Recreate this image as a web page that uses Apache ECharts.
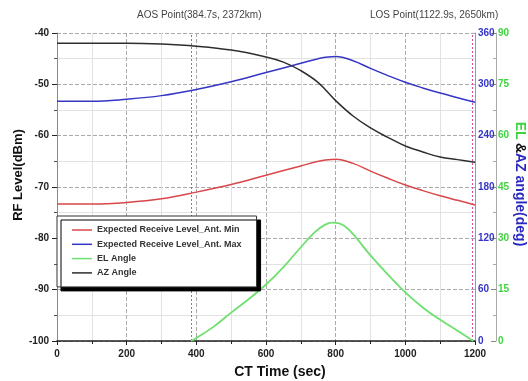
<!DOCTYPE html>
<html>
<head>
<meta charset="utf-8">
<script src="https://cdn.jsdelivr.net/npm/echarts@6/dist/echarts.min.js"></script>
<style>
  html, body { margin: 0; padding: 0; background: #fff; }
  #chart { width: 528px; height: 381px; }
</style>
</head>
<body>
<div id="chart"></div>
<script>
// RF level curves (dBm) vs CT time (sec)
const rfTime = [0, 100, 200, 300, 400, 500, 600, 700, 750, 800, 850, 900, 950, 1000, 1050, 1100, 1150, 1200];
const rfMin = [-73.3, -73.3, -73.0, -72.3, -71.0, -69.5, -67.7, -65.9, -65.0, -64.6, -65.4, -66.9, -68.3, -69.6, -70.7, -71.7, -72.6, -73.5];
const rfMax = [-53.3, -53.3, -52.9, -52.2, -51.0, -49.5, -47.7, -45.9, -45.0, -44.6, -45.4, -46.9, -48.3, -49.6, -50.7, -51.7, -52.6, -53.5];

// EL angle (deg), only during the pass
const elTime = [384.7, 400, 450, 500, 550, 600, 650, 700, 740, 770, 790, 810, 840, 900, 950, 1000, 1050, 1100, 1150, 1195];
const elAngle = [0, 0.9, 4.2, 8.3, 12.2, 16.5, 21.6, 27.4, 31.8, 34.0, 34.6, 34.4, 32.3, 25.0, 19.4, 14.2, 9.8, 6.2, 3.0, 0];

// AZ angle (deg)
const azTime = [0, 100, 200, 300, 400, 500, 600, 650, 700, 750, 800, 850, 900, 950, 1000, 1050, 1100, 1150, 1200];
const azAngle = [348, 348, 348, 347, 344.5, 340, 332, 326, 316, 302, 281, 263, 249, 238, 228, 221, 215, 212, 209];

// AOS / LOS marker lines
const markerTimes = [384.7, 1193];
const aosLabel = 'AOS Point(384.7s, 2372km)';
const losLabel = 'LOS Point(1122.9s, 2650km)';

const seriesNames = [
  'Expected Receive Level_Ant. Min',
  'Expected Receive Level_Ant. Max',
  'EL Angle',
  'AZ Angle'
];

const zip = (xs, ys) => xs.map((x, i) => [x, ys[i]]);

const labelFont = { fontSize: 10, fontWeight: 'bold', color: '#222', fontFamily: 'Liberation Sans, Arial' };
const markColor = '#d44fa8';

const myChart = echarts.init(document.getElementById('chart'));
const option = {
  animation: false,
  backgroundColor: '#fff',
  textStyle: { fontFamily: 'Liberation Sans, Arial' },
  title: [
    {
      text: aosLabel, left: 137, top: 10, padding: 0,
      textStyle: { fontSize: 10, fontWeight: 'normal', color: '#444' }
    },
    {
      text: losLabel, left: 370, top: 10, padding: 0,
      textStyle: { fontSize: 10, fontWeight: 'normal', color: '#444' }
    }
  ],
  grid: { left: 57, right: 53, top: 33, bottom: 40, outerBoundsMode: 'none' },
  legend: {
    data: seriesNames,
    orient: 'vertical',
    left: 57,
    top: 216,
    z: 20,
    icon: 'rect',
    itemWidth: 20,
    itemHeight: 1.5,
    itemGap: 3.3,
    padding: [8.5, 15, 8.5, 15],
    backgroundColor: '#fff',
    borderColor: '#333',
    borderWidth: 1,
    shadowColor: '#000',
    shadowBlur: 0,
    shadowOffsetX: 4,
    shadowOffsetY: 4,
    textStyle: { fontSize: 9, fontWeight: 'bold', color: '#333', lineHeight: 11 }
  },
  xAxis: {
    type: 'value',
    min: 0,
    max: 1200,
    interval: 200,
    name: 'CT Time (sec)',
    nameLocation: 'middle',
    nameGap: 24,
    nameMoveOverlap: false,
    nameTextStyle: { fontSize: 14, fontWeight: 'bold', color: '#111', padding: [0, 0, 0, 28] },
    axisLine: { lineStyle: { color: '#222', width: 1.5 } },
    axisTick: { length: 4, lineStyle: { color: '#222' } },
    minorTick: { show: true, splitNumber: 2, length: 3, lineStyle: { color: '#222' } },
    axisLabel: Object.assign({ margin: 8, formatter: v => String(v) }, labelFont),
    splitLine: { show: true, lineStyle: { color: '#aaa', type: 'dashed' } },
    minorSplitLine: { show: true, lineStyle: { color: '#e2e2e2' } }
  },
  yAxis: [
    {
      type: 'value',
      position: 'left',
      min: -100,
      max: -40,
      interval: 10,
      name: 'RF Level(dBm)',
      nameLocation: 'middle',
      nameGap: 32,
      nameMoveOverlap: false,
      nameTextStyle: { fontSize: 13, fontWeight: 'bold', color: '#111', padding: [0, 0, 0, 24] },
      axisLine: { show: true, lineStyle: { color: '#888' } },
      axisTick: { show: true, length: 5, lineStyle: { color: '#222' } },
      minorTick: { show: true, splitNumber: 2, length: 3, lineStyle: { color: '#555' } },
      axisLabel: Object.assign({ margin: 8 }, labelFont),
      splitLine: { show: true, lineStyle: { color: '#aaa', type: 'dashed' } },
      minorSplitLine: { show: true, lineStyle: { color: '#e2e2e2' } }
    },
    {
      type: 'value',
      position: 'right',
      min: 0,
      max: 360,
      interval: 60,
      axisLine: { show: true, lineStyle: { color: '#999' } },
      axisTick: { show: false },
      axisLabel: Object.assign({}, labelFont, { margin: 3, color: '#3535c8' }),
      splitLine: { show: false }
    },
    {
      type: 'value',
      position: 'right',
      offset: 21,
      min: 0,
      max: 90,
      interval: 15,
      name: '{g|EL} {k|&}{b|AZ angle(deg)}',
      nameLocation: 'middle',
      nameGap: 17,
      nameMoveOverlap: false,
      nameRotate: -90,
      nameTextStyle: {
        padding: [0, 6, 0, 0],
        rich: {
          g: { fontSize: 14, fontWeight: 'bold', color: '#3fd43f' },
          k: { fontSize: 14, fontWeight: 'bold', color: '#111' },
          b: { fontSize: 14, fontWeight: 'bold', color: '#2a2ac0' }
        }
      },
      axisLine: { show: true, lineStyle: { color: '#aaa' } },
      axisTick: { show: true, inside: true, length: 5, lineStyle: { color: '#888' } },
      minorTick: { show: true, splitNumber: 2, length: 3, lineStyle: { color: '#aaa' } },
      axisLabel: Object.assign({}, labelFont, { margin: 2, color: '#3fd43f' }),
      splitLine: { show: false }
    }
  ],
  series: [
    {
      name: seriesNames[0],
      type: 'line',
      yAxisIndex: 0,
      data: zip(rfTime, rfMin),
      smooth: 0.4,
      symbol: 'none',
      color: '#d9474a',
      lineStyle: { width: 1.5 },
      markLine: {
        silent: true,
        z: 1,
        symbol: 'none',
        label: { show: false },
        itemStyle: { color: markColor },
        lineStyle: { color: markColor, type: [2, 2], width: 1, opacity: 1 },
        data: markerTimes.map(t => ({ xAxis: t, lineStyle: { color: markColor } }))
      }
    },
    {
      name: seriesNames[1],
      type: 'line',
      yAxisIndex: 0,
      data: zip(rfTime, rfMax),
      smooth: 0.4,
      symbol: 'none',
      color: '#3636c4',
      lineStyle: { width: 1.5 }
    },
    {
      name: seriesNames[2],
      type: 'line',
      yAxisIndex: 2,
      data: zip(elTime, elAngle),
      smooth: 0.4,
      symbol: 'none',
      color: '#6fe06f',
      lineStyle: { width: 1.8 }
    },
    {
      name: seriesNames[3],
      type: 'line',
      yAxisIndex: 1,
      data: zip(azTime, azAngle),
      smooth: 0.4,
      symbol: 'none',
      color: '#2e2e2e',
      lineStyle: { width: 1.5 }
    }
  ]
};

option && myChart.setOption(option);
</script>
</body>
</html>
